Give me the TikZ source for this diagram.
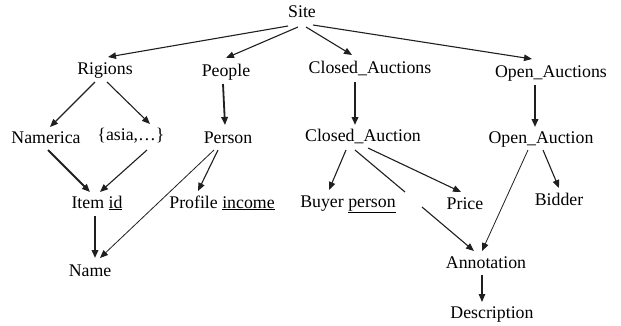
\documentclass[tikz,border=0pt]{standalone}
\usepackage{fontspec}
\setmainfont{Liberation Serif}
\usetikzlibrary{arrows.meta}
\begin{document}
\begin{tikzpicture}[x=1pt,y=-1pt,
  lbl/.style={anchor=base,inner sep=0pt,font=\fontsize{17.8}{20}\selectfont},
  con/.style={draw=black!88,line width=1.1pt,-{Triangle[length=8pt,width=6.5pt]}},
  thk/.style={line width=1.8pt},
  thn/.style={line width=0.8pt}]
\useasboundingbox (0,0) rectangle (621,325);
\node[lbl] (site) at (302,17) {Site};
\node[lbl] (rig) at (105,74) {Rigions};
\node[lbl] (peo) at (226,76) {People};
\node[lbl] (cas) at (370,73) {Closed\_Auctions};
\node[lbl] (oas) at (551,77) {Open\_Auctions};
\node[lbl] (nam) at (46,143) {Namerica};
\node[lbl] (asia) at (131,140) {\{asia,…\}};
\node[lbl] (per) at (228,143) {Person};
\node[lbl] (ca) at (363,141) {Closed\_Auction};
\node[lbl] (oa) at (541,143) {Open\_Auction};
\node[lbl] (item) at (97,208) {Item \underline{id}};
\node[lbl] (prof) at (222,208) {Profile \underline{income}};
\node[lbl] (name) at (90,276) {Name};
\node[lbl] (buy) at (348,207) {Buyer \underline{person}};
\node[lbl] (price) at (465,209) {Price};
\node[lbl] (bid) at (559,205) {Bidder};
\node[lbl] (ann) at (486,268) {Annotation};
\node[lbl] (desc) at (492,318) {Description};
\coordinate (g1) at (405,192);
\coordinate (g2) at (422,207);
% Site
\draw[con] ([shift={(-14,9)}]site.base) -- ([shift={(3,-17)}]rig.base);
\draw[con] ([shift={(-4,10)}]site.base) -- ([shift={(0,-18)}]peo.base);
\draw[con] ([shift={(4,10)}]site.base) -- ([shift={(-18,-18)}]cas.base);
\draw[con] ([shift={(11,8)}]site.base) -- ([shift={(-19,-18)}]oas.base);
% Rigions
\draw[con] ([shift={(-10,8)}]rig.base) -- ([shift={(4,-16)}]nam.base);
\draw[con] ([shift={(2,8)}]rig.base) -- ([shift={(19,-16)}]asia.base);
% verticals
\draw[con,thk] ([shift={(-3,8)}]peo.base) -- ([shift={(-3,-18)}]per.base);
\draw[con,thk] ([shift={(-15,9)}]cas.base) -- ([shift={(-8,-16)}]ca.base);
\draw[con,thk] ([shift={(-16,8)}]oas.base) -- ([shift={(-6,-16)}]oa.base);
% to Item id
\draw[con,thk] ([shift={(2,7)}]nam.base) -- ([shift={(-7,-16)}]item.base);
\draw[con] ([shift={(16,10)}]asia.base) -- ([shift={(3,-16)}]item.base);
% Person
\draw[con] ([shift={(-10,7)}]per.base) -- ([shift={(-24,-17)}]prof.base);
\draw[con,thn] ([shift={(-14,7)}]per.base) -- ([shift={(10,-18)}]name.base);
\draw[con,thk] ([shift={(-2,8)}]item.base) -- ([shift={(5,-18)}]name.base);
% Closed_Auction
\draw[con] ([shift={(-17,9)}]ca.base) -- ([shift={(-19,-17)}]buy.base);
\draw[con] ([shift={(5,7)}]ca.base) -- ([shift={(-4,-17)}]price.base);
\draw[con,-] ([shift={(-8,9)}]ca.base) -- (g1);
\draw[con] (g2) -- ([shift={(-12,-17)}]ann.base);
% Open_Auction
\draw[con,thn] ([shift={(-13,7)}]oa.base) -- ([shift={(-4,-17)}]ann.base);
\draw[con] ([shift={(2,7)}]oa.base) -- ([shift={(0,-17)}]bid.base);
% Annotation
\draw[con] ([shift={(-4,7)}]ann.base) -- ([shift={(-10,-16)}]desc.base);
\end{tikzpicture}
\end{document}
